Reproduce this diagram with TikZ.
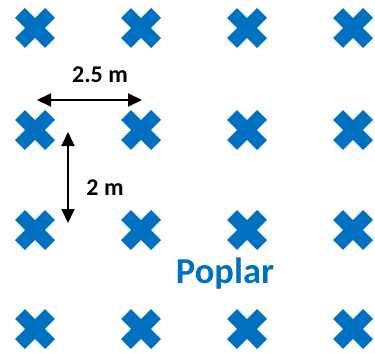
\documentclass[tikz,border=0pt]{standalone}
\usepackage{fontspec}
\setmainfont{Carlito}
\usetikzlibrary{arrows.meta}
\definecolor{xblue}{HTML}{0070C0}
\begin{document}
\begin{tikzpicture}[x=1pt,y=-1pt,
  tree/.style={minimum size=41pt, inner sep=0pt, path picture={
    \draw[xblue, line width=14pt]
      ([xshift=-15pt,yshift=15pt]path picture bounding box.center) --
      ([xshift=15pt,yshift=-15pt]path picture bounding box.center);
    \draw[xblue, line width=14pt]
      ([xshift=-15pt,yshift=-15pt]path picture bounding box.center) --
      ([xshift=15pt,yshift=15pt]path picture bounding box.center);
  }},
  dim/.style={line width=2pt, {Triangle[length=14pt,width=13pt]}-{Triangle[length=14pt,width=13pt]}},
  lbl/.style={font=\fontsize{24}{28}\selectfont\bfseries, inner sep=0pt, anchor=base},
  species/.style={font=\fontsize{36.5}{42}\selectfont\bfseries, text=xblue, inner sep=0pt, anchor=base}]
\useasboundingbox (0,0) rectangle (375,353);
\foreach \c/\x in {1/35,2/141,3/247,4/353}{
  \foreach \r/\y in {1/28,2/130,3/230,4/329}{
    \node[tree] (t\r\c) at (\x,\y) {};
  }
}
\coordinate (h1) at (37,100);
\coordinate (h2) at (142,100);
\coordinate (v1) at (68,132);
\coordinate (v2) at (68,223);
\draw[dim] (h1) -- (h2);
\draw[dim] (v1) -- (v2);
\node[lbl] (lh) at (100,83) {2.5 m};
\node[lbl] (lv) at (105,195) {2 m};
\node[species] (pop) at (225,283) {Poplar};
\end{tikzpicture}
\end{document}
